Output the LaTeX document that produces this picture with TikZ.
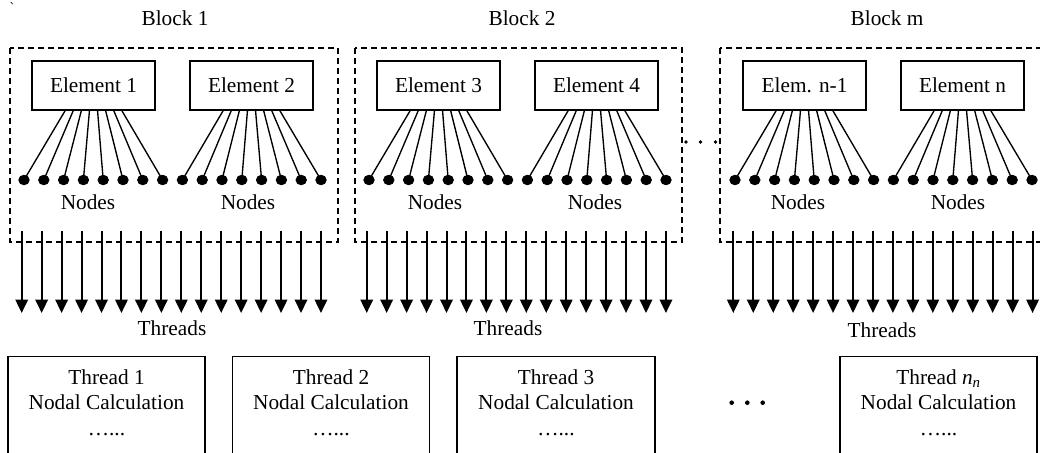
\documentclass[tikz,border=0pt]{standalone}
\usepackage{fontspec}
\setmainfont{Liberation Serif}
\usetikzlibrary{arrows.meta,shapes.geometric}
\begin{document}
\begin{tikzpicture}[x=1pt,y=-1pt,
  font=\fontsize{21.3}{25.5}\selectfont,
  elem/.style={draw,line width=1.3pt,minimum width=123pt,minimum height=49pt,inner sep=0pt},
  blockframe/.style={draw,dash pattern=on 6pt off 4pt,line width=1.3pt},
  nodedot/.style={ellipse,fill,draw,line width=0.8pt,inner sep=0pt,minimum width=10.5pt,minimum height=9.6pt},
  wire/.style={line width=1.35pt},
  thr/.style={line width=2pt,-{Triangle[width=12.5pt,length=13.5pt]}},
  calcbox/.style={draw,line width=1.3pt,minimum width=197pt,minimum height=120pt,inner sep=0pt,anchor=north},
  calctext/.style={align=center,inner sep=0pt,anchor=north},
  gapdot/.style={circle,fill,inner sep=0pt,minimum size=#1},
]
\clip (0,0) rectangle (1040,452);
\useasboundingbox (0,0) rectangle (1040,452);

% stray grave mark in the corner
\node[font=\fontsize{14}{14}\selectfont,inner sep=0pt] (grave) at (12,8) {\textasciigrave};

% block titles
\node (lb1) at (175,18) {Block 1};
\node (lb2) at (522,18) {Block 2};
\node (lb3) at (887,18) {Block m};

% dashed block frames
\draw[blockframe] (10,48) rectangle (338,242);
\draw[blockframe] (355,48) rectangle (682,242);
\draw[blockframe] (720,48) rectangle (1052,242);

% elements
\node[elem] (e1) at (93.5,85.5) {Element 1};
\node[elem] (e2) at (251.5,85.5) {Element 2};
\node[elem] (e3) at (438.5,85.5) {Element 3};
\node[elem] (e4) at (596.5,85.5) {Element 4};
\node[elem] (e5) at (804.5,85.5) {Elem. n-1};
\node[elem] (e6) at (962.5,85.5) {Element n};

% nodes of each block, wired to their elements
\foreach \b/\x/\ea/\eb in {1/24/e1/e2, 2/369/e3/e4, 3/735/e5/e6}{
  \foreach \i in {0,...,15}{
    \node[nodedot] (d\b-\i) at (\x+19.8*\i,180) {};
  }
  \foreach \i in {0,...,7}{
    \pgfmathtruncatemacro\j{\i+8}
    \draw[wire] ([xshift={(\i-3.5)*8.1pt}]\ea.south) -- (d\b-\i.center);
    \draw[wire] ([xshift={(\i-3.5)*8.1pt}]\eb.south) -- (d\b-\j.center);
  }
}

% node labels
\node (n1) at (88,202) {Nodes};
\node (n2) at (248,202) {Nodes};
\node (n3) at (435,202) {Nodes};
\node (n4) at (595,202) {Nodes};
\node (n5) at (798,202) {Nodes};
\node (n6) at (958,202) {Nodes};

% gap between block 2 and block m
\node[gapdot=3.8pt] (g1) at (686,142) {};
\node[gapdot=3.8pt] (g2) at (700.5,142) {};
\node[gapdot=3.8pt] (g3) at (715.5,142) {};

% thread arrows
\foreach \b/\x in {1/21.7, 2/366.7, 3/733.3}{
  \foreach \i in {0,...,15}{
    \coordinate (ts\b-\i) at (\x+19.95*\i,231);
    \coordinate (te\b-\i) at (\x+19.95*\i,313);
    \draw[thr] (ts\b-\i) -- (te\b-\i);
  }
}

\node (th1) at (172,328) {Threads};
\node (th2) at (508,328) {Threads};
\node (th3) at (882,330) {Threads};

% per-thread nodal calculation boxes
\node[calcbox] (c1) at (106.5,356) {};
\node[calcbox] (c2) at (331,356) {};
\node[calcbox,minimum width=198pt] (c3) at (556,356) {};
\node[calcbox] (c4) at (938.5,356) {};

\node[calctext] (ct1) at ([yshift=-13.5pt]c1.north) {Thread 1\\Nodal Calculation\\…...};
\node[calctext] (ct2) at ([yshift=-13.5pt]c2.north) {Thread 2\\Nodal Calculation\\…...};
\node[calctext] (ct3) at ([yshift=-13.5pt]c3.north) {Thread 3\\Nodal Calculation\\…...};
\node[calctext] (ct4) at ([yshift=-13.5pt]c4.north) {Thread {\itshape n}\textsubscript{\itshape n}\\Nodal Calculation\\…...};

\node[gapdot=4.6pt] (h1) at (731.7,402.7) {};
\node[gapdot=4.6pt] (h2) at (747.3,402.7) {};
\node[gapdot=4.6pt] (h3) at (762.7,402.7) {};
\end{tikzpicture}
\end{document}
